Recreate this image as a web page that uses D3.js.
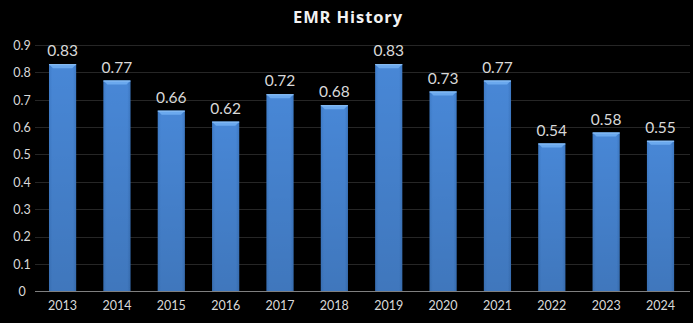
<!DOCTYPE html>
<html><head><meta charset="utf-8">
<script src="https://cdn.jsdelivr.net/npm/d3@7"></script>
<style>html,body{margin:0;padding:0;background:#000;}svg{display:block;}</style>
</head><body>
<script>
const years = ["2013","2014","2015","2016","2017","2018","2019","2020","2021","2022","2023","2024"];
const values = [0.83,0.77,0.66,0.62,0.72,0.68,0.83,0.73,0.77,0.54,0.58,0.55];
const yTicks = [0,0.1,0.2,0.3,0.4,0.5,0.6,0.7,0.8,0.9];
const title = "EMR History";

const W = 693, H = 323;
const svg = d3.select("body").append("svg").attr("width", W).attr("height", H);
svg.append("rect").attr("width", W).attr("height", H).attr("fill", "#000");

const x = d3.scaleBand().domain(years).range([35.4, 687.7]).paddingInner(0.5).paddingOuter(0.25);
const y = d3.scaleLinear().domain([0, 0.9]).range([291.3, 45]);

const defs = svg.append("defs");
const g1 = defs.append("linearGradient").attr("id","barGrad").attr("x1",0).attr("x2",1).attr("y1",0).attr("y2",0);
g1.append("stop").attr("offset","0%").attr("stop-color","#3f7cc8");
g1.append("stop").attr("offset","12%").attr("stop-color","#4887d6");
g1.append("stop").attr("offset","88%").attr("stop-color","#4887d6");
g1.append("stop").attr("offset","100%").attr("stop-color","#3d78c2");
const g2 = defs.append("linearGradient").attr("id","shade").attr("x1",0).attr("x2",0).attr("y1",0).attr("y2",1);
g2.append("stop").attr("offset","0%").attr("stop-color","#000").attr("stop-opacity",0);
g2.append("stop").attr("offset","100%").attr("stop-color","#000").attr("stop-opacity",0.12);

// gridlines
svg.append("g").selectAll("line").data(yTicks.filter(d => d > 0)).join("line")
  .attr("x1", 35).attr("x2", 690)
  .attr("y1", d => Math.round(y(d)) + 0.5).attr("y2", d => Math.round(y(d)) + 0.5)
  .attr("stroke", "#262626").attr("stroke-width", 1);

// y axis labels
const yAxis = d3.axisLeft(y).tickValues(yTicks).tickSize(0).tickPadding(0)
  .tickFormat(d => d === 0 ? "0" : d3.format(".1f")(d));
const ya = svg.append("g").attr("transform", "translate(22,0)").call(yAxis);
ya.select(".domain").remove();
ya.selectAll("text").attr("fill", "#d9d9d9").attr("font-family", "Lato, 'Open Sans', sans-serif")
  .attr("font-size", 12.5).attr("text-anchor", "middle").attr("dy", "0.35em");

// bars
const bars = svg.append("g").selectAll("g").data(years).join("g");
bars.append("rect")
  .attr("x", d => x(d)).attr("width", x.bandwidth())
  .attr("y", (d,i) => y(values[i])).attr("height", (d,i) => y(0) - y(values[i]))
  .attr("fill", "url(#barGrad)");
bars.append("rect")
  .attr("x", d => x(d)).attr("width", x.bandwidth())
  .attr("y", (d,i) => y(values[i])).attr("height", (d,i) => y(0) - y(values[i]))
  .attr("fill", "url(#shade)");
// top bevel
bars.append("path")
  .attr("d", (d,i) => {
    const x0 = x(d), x1 = x0 + x.bandwidth(), t = y(values[i]);
    return `M${x0},${t}L${x1},${t}L${x1-4},${t+4}L${x0+4},${t+4}Z`;
  })
  .attr("fill", "#6ba9ee");
bars.append("line")
  .attr("x1", d => x(d)).attr("x2", d => x(d) + x.bandwidth())
  .attr("y1", (d,i) => y(values[i]) + 0.5).attr("y2", (d,i) => y(values[i]) + 0.5)
  .attr("stroke", "#8cc0f5").attr("stroke-width", 1);

// value labels
svg.append("g").selectAll("text").data(years).join("text")
  .attr("x", d => x(d) + x.bandwidth() / 2)
  .attr("y", (d,i) => y(values[i]) - 8)
  .attr("text-anchor", "middle")
  .attr("fill", "#d9d9d9").attr("font-family", "Lato, 'Open Sans', sans-serif").attr("font-size", 15.5)
  .text((d,i) => d3.format(".2f")(values[i]));

// x axis
const xAxis = d3.axisBottom(x).tickSize(0).tickPadding(10);
const xa = svg.append("g").attr("transform", `translate(0,${y(0)})`).call(xAxis);
xa.select(".domain").remove();
xa.selectAll("text").attr("fill", "#d9d9d9").attr("font-family", "Lato, 'Open Sans', sans-serif").attr("font-size", 12.5);
svg.append("line").attr("x1", 35).attr("x2", 690).attr("y1", 291.5).attr("y2", 291.5)
  .attr("stroke", "#7f7f7f").attr("stroke-width", 1.2);

// title
svg.append("text").attr("x", 348).attr("y", 23).attr("text-anchor", "middle")
  .attr("fill", "#f2f2f2").attr("font-family", "'Open Sans', Lato, sans-serif").attr("font-weight", "bold")
  .attr("font-size", 16.5).attr("letter-spacing", 0.9).text(title);
</script>
</body></html>
